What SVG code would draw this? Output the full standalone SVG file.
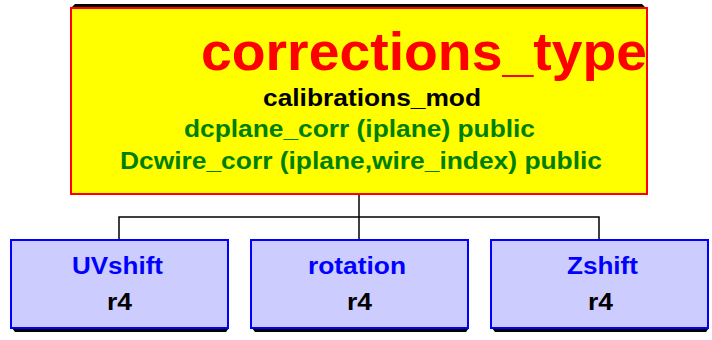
<svg xmlns="http://www.w3.org/2000/svg" width="712" height="340" viewBox="0 0 712 340">
<style>
text{font-family:"Liberation Sans",Arial,sans-serif;font-weight:bold;}
.top{fill:#ffff00;stroke:#ff0000;stroke-width:2;}
.sub{fill:#ccccff;stroke:#0000ff;stroke-width:2;}
.sh{fill:#000;}
.title{fill:#ff0000;font-size:54px;}
.blk{fill:#000;}
.grn{fill:#008000;font-size:23px;}
.blu{fill:#0000ff;font-size:23px;}
.conn{fill:none;stroke:#000;stroke-width:1.5;}
</style>
<rect width="712" height="340" fill="#fff"/>
<g id="connectors">
<polyline class="conn" points="359,194 359,217"/>
<polyline class="conn" points="119,240 119,217 599,217 599,240"/>
<polyline class="conn" points="359,217 359,240"/>
</g>
<g id="corrections_type">
<polygon class="sh" points="71,8 75,4 642,4 646,8"/>
<rect class="top" x="71" y="8" width="576" height="186"/>
<text class="title" x="201" y="70" textLength="446" lengthAdjust="spacingAndGlyphs">corrections_type</text>
<text class="blk" x="263" y="106" font-size="23" textLength="218" lengthAdjust="spacingAndGlyphs">calibrations_mod</text>
<text class="grn" x="184" y="137" textLength="351" lengthAdjust="spacingAndGlyphs">dcplane_corr (iplane) public</text>
<text class="grn" x="120" y="169" textLength="482" lengthAdjust="spacingAndGlyphs">Dcwire_corr (iplane,wire_index) public</text>
</g>
<g id="UVshift">
<polygon class="sh" points="12,328 15,332 226,332 229,328"/>
<rect class="sub" x="11" y="240" width="217" height="88"/>
<text class="blu" x="72" y="274" textLength="91" lengthAdjust="spacingAndGlyphs">UVshift</text>
<text class="blk" x="107" y="310" font-size="23" textLength="25" lengthAdjust="spacingAndGlyphs">r4</text>
</g>
<g id="rotation">
<polygon class="sh" points="252,328 255,332 466,332 469,328"/>
<rect class="sub" x="251" y="240" width="217" height="88"/>
<text class="blu" x="308" y="274" textLength="98" lengthAdjust="spacingAndGlyphs">rotation</text>
<text class="blk" x="347" y="310" font-size="23" textLength="25" lengthAdjust="spacingAndGlyphs">r4</text>
</g>
<g id="Zshift">
<polygon class="sh" points="492,328 495,332 706,332 709,328"/>
<rect class="sub" x="491" y="240" width="217" height="88"/>
<text class="blu" x="567" y="274" textLength="71" lengthAdjust="spacingAndGlyphs">Zshift</text>
<text class="blk" x="588" y="310" font-size="23" textLength="25" lengthAdjust="spacingAndGlyphs">r4</text>
</g>
</svg>
